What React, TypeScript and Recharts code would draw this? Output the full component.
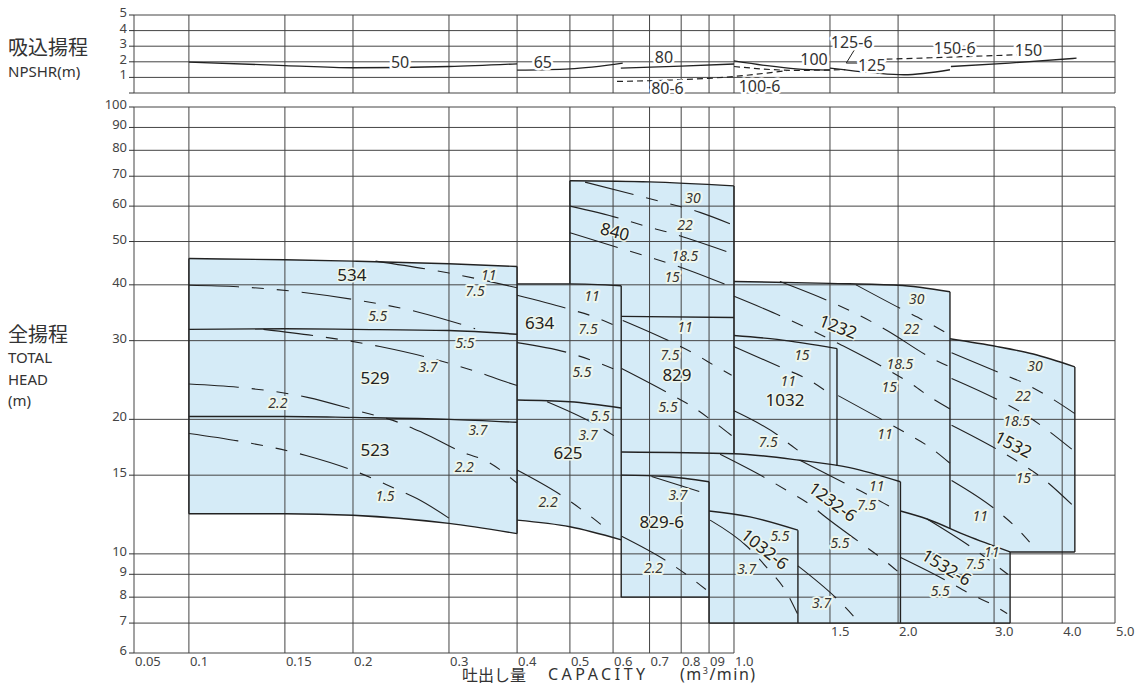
import React from "react";
import { ComposedChart, Line, Area, Scatter, XAxis, YAxis } from "recharts";

type Pt = [number, number];
type Band = [number, number, number];
type Lbl = { t: string; x: number; y: number };

const W = 1138;
const H = 685;
const FONT = "'Noto Sans', 'DejaVu Sans', sans-serif";
const JFONT = "'Noto Sans CJK JP', 'Noto Sans', sans-serif";
const FILL = "#d5ebf7";
const INK = "#222";
const GRID = "#444";
const DASH = "50 13 12 13 12 13";

// ---------- axes ----------
const X_MIN = 0.0793; // left edge of the (broken) capacity axis, labelled 0.05
const X_MAX = 5;
const X_TICKS = [X_MIN, 0.1, 0.15, 0.2, 0.3, 0.4, 0.5, 0.6, 0.7, 0.8, 0.9, 1.0, 1.5, 2.0, 3.0, 4.0, 5.0];
const X_TICK_TEXT = ["0.05", "0.1", "0.15", "0.2", "0.3", "0.4", "0.5", "0.6", "0.7", "0.8", "09", "1.0", "1.5", "2.0", "3.0", "4.0", "5.0"];
const Y_TICKS = [6, 7, 8, 9, 10, 15, 20, 30, 40, 50, 60, 70, 80, 90, 100];
const NPSH_TICKS = [0, 1, 2, 3, 4, 5];

// ---------- pump regions: [capacity, lowHead, highHead] ----------
const FILL_500: Band[] = [[0.1, 12.3, 45.8], [0.15, 12.3, 45.5], [0.2, 12.2, 45.2], [0.3, 11.7, 44.6], [0.4, 11.1, 43.95]];
const FILL_600: Band[] = [[0.4, 11.9, 40.2], [0.5, 11.5, 40.2], [0.621, 10.75, 39.8]];
const FILL_840: Band[] = [[0.5, 30, 68.4], [0.7, 30, 68.0], [1.0, 30, 66.6]];
const FILL_829: Band[] = [[0.621, 14.4, 34.0], [1.0, 14.4, 33.8]];
const FILL_1232_6: Band[] = [[0.9, 7, 16.78], [1.0, 7, 16.75], [1.32, 7, 16.2], [1.63, 7, 15.6], [2.02, 7, 14.5]];
const FILL_829_6: Band[] = [[0.621, 8, 15.0], [0.75, 8, 14.9], [0.9, 8, 14.5]];
const FILL_1032_6: Band[] = [[0.9, 7, 12.47], [1.07, 7, 12.1], [1.31, 7, 11.3]];
const FILL_1032: Band[] = [[1.0, 15.5, 30.8], [1.2, 15.5, 30.2], [1.545, 15.5, 28.8]];
const FILL_1232: Band[] = [[1.0, 16, 40.7], [1.5, 15, 40.3], [2.0, 12, 39.9], [2.49, 10.5, 38.6]];
const FILL_1532: Band[] = [[2.49, 10.1, 30.3], [3.04, 10.1, 29.1], [3.54, 10.1, 28.0], [4.22, 10.1, 26.2]];
const FILL_1532_6: Band[] = [[2.02, 7, 12.47], [2.26, 7, 11.97], [2.68, 7, 10.97], [3.21, 7, 10.1]];

// ---------- region boundaries ----------
const DIV_534_529: Pt[] = [[0.1, 31.8], [0.15, 31.9], [0.2, 31.8], [0.3, 31.6], [0.4, 31.0]];
const DIV_529_523: Pt[] = [[0.1, 20.3], [0.15, 20.3], [0.2, 20.2], [0.3, 20.0], [0.4, 19.7]];
const DIV_634_625: Pt[] = [[0.4, 22.1], [0.5, 21.9], [0.621, 21.2]];
const TOP_1232_6: Pt[] = [[0.621, 16.9], [1.0, 16.75], [1.32, 16.2], [1.63, 15.6], [2.02, 14.5]];
const EDGES: Pt[][] = [
  [[0.1, 12.3], [0.1, 45.8]],
  [[0.4, 11.1], [0.4, 43.95]],
  [[0.621, 39.8], [0.621, 8]],
  [[0.5, 40.2], [0.5, 68.4]],
  [[1.0, 66.6], [1.0, 16.75]],
  [[0.9, 14.5], [0.9, 7]],
  [[0.621, 8], [0.9, 8]],
  [[1.31, 11.3], [1.31, 7]],
  [[2.02, 14.5], [2.02, 7]],
  [[1.545, 28.8], [1.545, 15.72]],
  [[2.49, 38.6], [2.49, 11.4]],
  [[4.22, 26.2], [4.22, 10.1]],
  [[3.21, 10.1], [4.22, 10.1]],
  [[3.21, 10.1], [3.21, 7]],
  [[0.9, 7], [3.21, 7]],
];

// ---------- motor output lines (kW) ----------
const C534_11: Pt[] = [[0.22, 45.2], [0.3, 42.5], [0.4, 39.4]];
const C534_55: Pt[] = [[0.1, 39.9], [0.123, 39.6], [0.2, 37.1], [0.265, 34.7], [0.335, 31.9]];
const C529_37: Pt[] = [[0.137, 31.8], [0.224, 29.1], [0.2745, 27.5], [0.3, 26.7], [0.336, 25.6], [0.38, 24.3], [0.4, 23.8]];
const C529_22: Pt[] = [[0.1, 24.0], [0.123, 23.6], [0.165, 22.4], [0.204, 20.9], [0.242, 19.7], [0.268, 18.7], [0.325, 16.7], [0.345, 16.3], [0.4, 14.4]];
const C523_15: Pt[] = [[0.1, 18.6], [0.123, 17.9], [0.164, 16.6], [0.202, 15.3], [0.236, 14.1], [0.262, 13.3], [0.31, 11.7]];
const C634_11: Pt[] = [[0.4, 37.9], [0.494, 35.4], [0.551, 34.0], [0.61, 32.3]];
const C634_55: Pt[] = [[0.4, 29.7], [0.496, 28.2], [0.553, 27.0], [0.612, 25.7]];
const C625_37: Pt[] = [[0.454, 21.9], [0.556, 19.5], [0.61, 18.2]];
const C625_22: Pt[] = [[0.4, 15.4], [0.483, 13.5], [0.533, 12.4], [0.582, 11.4]];
const C840_30: Pt[] = [[0.533, 67.9], [0.658, 63.6], [0.732, 61.5], [0.866, 58.1], [0.983, 54.8]];
const C840_22: Pt[] = [[0.5, 60], [0.622, 56.2], [0.692, 54.0], [0.772, 52.1], [0.819, 50.9], [0.983, 47.2]];
const C840_185: Pt[] = [[0.5, 52.3], [0.622, 48.2], [0.692, 46.3], [0.772, 44.4], [0.819, 43.3], [0.983, 39.7]];
const C829_11: Pt[] = [[0.625, 33.3], [0.763, 29.9], [0.846, 28.05], [0.93, 26.2], [0.99, 25.1]];
const C829_55: Pt[] = [[0.622, 26.0], [0.758, 22.9], [0.836, 21.4], [0.915, 19.8], [0.99, 18.4]];
const C829_6_37: Pt[] = [[0.706, 14.9], [0.878, 13.7]];
const C829_6_22: Pt[] = [[0.622, 10.95], [0.758, 9.58], [0.83, 8.87], [0.894, 8.27]];
const C1032_6_55: Pt[] = [[0.904, 11.9], [1.056, 10.4], [1.15, 9.3], [1.246, 8.23], [1.307, 7.35]];
const C1232_6_11: Pt[] = [[1.322, 16.2], [1.587, 14.45], [1.752, 13.6], [1.947, 12.7], [2.02, 12.4]];
const C1232_6_75: Pt[] = [[0.943, 16.7], [1.14, 14.8], [1.258, 13.8], [1.389, 12.8], [1.458, 12.2], [1.74, 10.4], [1.906, 9.58], [2.0, 9.12]];
const C1232_6_37: Pt[] = [[1.31, 9.4], [1.555, 7.87], [1.684, 7.1]];
const C1032_15: Pt[] = [[1.0, 29.1], [1.223, 26.1], [1.355, 24.7], [1.489, 22.96]];
const C1032_75: Pt[] = [[1.0, 20.9], [1.206, 18.4], [1.276, 17.45], [1.331, 16.8]];
const C1232_30: Pt[] = [[1.674, 40.0], [2.03, 35.3], [2.24, 33.2], [2.49, 30.9]];
const C1232_22: Pt[] = [[1.214, 40.7], [1.5, 36.7], [1.656, 34.7], [1.827, 32.6], [1.919, 31.5], [2.32, 27.3], [2.49, 26.2]];
const C1232_185: Pt[] = [[1.0, 37.7], [1.223, 34.0], [1.355, 32.1], [1.576, 29.3], [1.906, 25.9], [2.12, 23.96], [2.32, 22.2], [2.49, 21.1]];
const C1232_15: Pt[] = [[1.553, 22.6], [1.893, 19.8], [2.089, 18.5], [2.29, 17.3], [2.49, 15.95]];
const C1532_30: Pt[] = [[2.507, 28.2], [3.076, 25.4], [3.405, 24.1], [3.773, 22.5], [4.22, 20.6]];
const C1532_185: Pt[] = [[2.507, 24.7], [3.054, 22.1], [3.395, 20.6], [3.72, 19.1], [4.165, 17.15]];
const C1532_15: Pt[] = [[2.507, 19.4], [3.034, 17.15], [3.35, 15.96], [3.67, 14.8], [4.165, 12.9]];
const C1532_11: Pt[] = [[2.507, 14.6], [3.01, 12.6], [3.29, 11.47], [3.54, 10.4]];
const C1532_6_11: Pt[] = [[2.26, 11.97], [2.71, 10.4], [3.18, 9.0]];
const C1532_6_55: Pt[] = [[2.017, 9.83], [2.42, 8.79], [2.71, 8.14], [2.995, 7.67], [3.17, 7.35]];

// ---------- labels ----------
const REGION_LABELS: Lbl[] = [
  { t: "534", x: 0.199, y: 42.2 }, { t: "529", x: 0.2195, y: 24.8 }, { t: "523", x: 0.2195, y: 17.1 },
  { t: "634", x: 0.44, y: 33.0 }, { t: "625", x: 0.496, y: 16.9 }, { t: "829", x: 0.786, y: 25.2 },
  { t: "829-6", x: 0.737, y: 11.8 }, { t: "1032", x: 1.24, y: 22.1 }, { t: "840", x: 0.605, y: 52.7 },
  { t: "1232", x: 1.553, y: 32.3 }, { t: "1232-6", x: 1.519, y: 13.1 }, { t: "1032-6", x: 1.14, y: 10.26 },
  { t: "1532", x: 3.256, y: 17.6 }, { t: "1532-6", x: 2.457, y: 9.34 },
];
const REGION_TILT: Record<string, number> = { "840": 15, "1232": 21, "1532": 27, "1232-6": 36, "1032-6": 38, "1532-6": 31 };
const POWER_LABELS: Lbl[] = [
  { t: "11", x: 0.355, y: 42.2 }, { t: "7.5", x: 0.335, y: 38.8 }, { t: "5.5", x: 0.222, y: 34.2 },
  { t: "5.5", x: 0.321, y: 29.7 }, { t: "3.7", x: 0.2745, y: 26.3 }, { t: "2.2", x: 0.1456, y: 21.8 },
  { t: "3.7", x: 0.339, y: 19.0 }, { t: "2.2", x: 0.32, y: 15.7 }, { t: "1.5", x: 0.229, y: 13.5 },
  { t: "11", x: 0.549, y: 37.9 }, { t: "7.5", x: 0.54, y: 31.96 }, { t: "5.5", x: 0.526, y: 25.6 },
  { t: "5.5", x: 0.568, y: 20.4 }, { t: "3.7", x: 0.54, y: 18.5 }, { t: "2.2", x: 0.456, y: 13.1 },
  { t: "30", x: 0.841, y: 62.6 }, { t: "22", x: 0.813, y: 54.5 }, { t: "18.5", x: 0.813, y: 46.5 }, { t: "15", x: 0.77, y: 41.7 },
  { t: "11", x: 0.813, y: 32.3 }, { t: "7.5", x: 0.763, y: 27.96 }, { t: "5.5", x: 0.757, y: 21.4 },
  { t: "3.7", x: 0.789, y: 13.6 }, { t: "2.2", x: 0.712, y: 9.34 },
  { t: "15", x: 1.332, y: 27.96 }, { t: "11", x: 1.258, y: 24.4 }, { t: "7.5", x: 1.156, y: 17.8 },
  { t: "30", x: 2.164, y: 37.2 }, { t: "22", x: 2.117, y: 31.9 }, { t: "18.5", x: 2.016, y: 26.6 }, { t: "15", x: 1.927, y: 23.7 }, { t: "11", x: 1.893, y: 18.6 },
  { t: "11", x: 1.827, y: 14.2 }, { t: "7.5", x: 1.752, y: 12.9 }, { t: "5.5", x: 1.565, y: 10.6 }, { t: "3.7", x: 1.448, y: 7.8 },
  { t: "5.5", x: 1.214, y: 10.98 }, { t: "3.7", x: 1.055, y: 9.26 },
  { t: "30", x: 3.567, y: 26.4 }, { t: "22", x: 3.39, y: 22.6 }, { t: "18.5", x: 3.3, y: 19.9 }, { t: "15", x: 3.395, y: 14.8 }, { t: "11", x: 2.83, y: 12.2 },
  { t: "11", x: 2.97, y: 10.1 }, { t: "7.5", x: 2.77, y: 9.5 }, { t: "5.5", x: 2.39, y: 8.28 },
];

// ---------- NPSHR (m) ----------
const N_50: Pt[] = [[0.1, 1.98], [0.15, 1.76], [0.2, 1.62], [0.3, 1.7], [0.4, 1.87]];
const N_65: Pt[] = [[0.4, 1.47], [0.5, 1.55], [0.625, 1.92]];
const N_80: Pt[] = [[0.62, 1.6], [0.8, 1.72], [1.0, 1.86]];
const N_100: Pt[] = [[1.0, 2.06], [1.15, 1.75], [1.3, 1.55], [1.5, 1.47]];
const N_125: Pt[] = [[1.5, 1.6], [1.8, 1.3], [2.05, 1.17], [2.49, 1.49]];
const N_150: Pt[] = [[2.5, 1.7], [3.2, 1.92], [4.25, 2.23]];
const N_80_6: Pt[] = [[0.61, 0.74], [1.0, 1.06], [1.25, 1.44]];
const N_100_6: Pt[] = [[1.0, 1.7], [1.3, 1.45], [1.6, 1.5]];
const N_150_6: Pt[] = [[1.75, 2.13], [2.4, 2.28], [3.3, 2.45]];
const N_LEADER: Pt[] = [[1.67, 2.87], [1.607, 1.92], [1.683, 1.92]];
const NPSH_LABELS: Lbl[] = [
  { t: "50", x: 0.244, y: 2.0 }, { t: "65", x: 0.446, y: 2.0 }, { t: "80", x: 0.744, y: 2.3 },
  { t: "100", x: 1.402, y: 2.2 }, { t: "125-6", x: 1.644, y: 3.3 }, { t: "125", x: 1.79, y: 1.8 },
  { t: "150-6", x: 2.54, y: 2.87 }, { t: "150", x: 3.47, y: 2.75 }, { t: "80-6", x: 0.755, y: 0.32 },
  { t: "100-6", x: 1.114, y: 0.45 },
];

// ---------- helpers ----------
const toData = (pts: Pt[]) => pts.map(([x, y]) => ({ x, y }));
const bandData = (b: Band[]) => b.map(([x, lo, hi]) => ({ x, r: [lo, hi] }));
const topOf = (b: Band[]): Pt[] => b.map(([x, , hi]) => [x, hi]);
const botOf = (b: Band[]): Pt[] => b.map(([x, lo]) => [x, lo]);

const lines = (list: Pt[][], key: string, stroke: string, width: number, type: "linear" | "monotone", dash?: string) =>
  list.map((pts, i) => (
    <Line
      key={key + i}
      data={toData(pts)}
      dataKey="y"
      type={type}
      stroke={stroke}
      strokeWidth={width}
      strokeDasharray={dash}
      dot={false}
      activeDot={false}
      legendType="none"
      isAnimationActive={false}
    />
  ));

const areas = (list: Band[][], key: string) =>
  list.map((b, i) => (
    <Area
      key={key + i}
      data={bandData(b)}
      dataKey="r"
      type="monotone"
      stroke="none"
      fill={FILL}
      fillOpacity={1}
      dot={false}
      activeDot={false}
      legendType="none"
      isAnimationActive={false}
    />
  ));

const YTick = (p: any) => {
  if (p.payload.value === 0 && p.hideZero) return null;
  return (
    <text x={p.x} y={p.y + 2} textAnchor="end" fontFamily={FONT} fontSize={13} fill="#444">
      {p.payload.value}
    </text>
  );
};

const XTickLabel = (p: any) => (
  <text x={p.cx + 1} y={p.cy + 13} fontFamily={FONT} fontSize={13} fill="#444">
    {p.payload.t}
  </text>
);

const RegionLabel = (p: any) => {
  const rot = REGION_TILT[p.payload.t] || 0;
  return (
    <text
      x={p.cx}
      y={p.cy}
      textAnchor="middle"
      dominantBaseline="central"
      transform={rot ? `rotate(${rot} ${p.cx} ${p.cy})` : undefined}
      fontFamily={FONT}
      fontSize={17}
      fill="#222"
      stroke="#eef6ec"
      strokeWidth={3}
      strokeLinejoin="round"
      style={{ paintOrder: "stroke" }}
    >
      {p.payload.t}
    </text>
  );
};

const PowerLabel = (p: any) => (
  <text
    x={p.cx}
    y={p.cy}
    textAnchor="middle"
    dominantBaseline="central"
    fontFamily={FONT}
    fontSize={14}
    fontStyle="italic"
    fill="#333"
    stroke="#eef6ec"
    strokeWidth={4}
    strokeLinejoin="round"
    style={{ paintOrder: "stroke" }}
  >
    {p.payload.t}
  </text>
);

const NpshLabel = (p: any) => (
  <text
    x={p.cx}
    y={p.cy}
    textAnchor="middle"
    dominantBaseline="central"
    fontFamily={FONT}
    fontSize={16}
    fill="#333"
    stroke="#fff"
    strokeWidth={5}
    strokeLinejoin="round"
    style={{ paintOrder: "stroke" }}
  >
    {p.payload.t}
  </text>
);

export default function App() {
  const mainGrid: Pt[][] = [
    ...Y_TICKS.map((y): Pt[] => [[X_MIN, y], [y === 6 ? 1.0 : X_MAX, y]]),
    ...X_TICKS.map((x): Pt[] => [[x, x > 1 ? 7 : 6], [x, 100]]),
  ];
  const npshGrid: Pt[][] = [
    ...NPSH_TICKS.map((y): Pt[] => [[X_MIN, y], [X_MAX, y]]),
    ...X_TICKS.map((x): Pt[] => [[x, 0], [x, 5]]),
  ];
  const outlineCurves: Pt[][] = [
    topOf(FILL_500), botOf(FILL_500), DIV_534_529, DIV_529_523,
    topOf(FILL_600), botOf(FILL_600), DIV_634_625,
    topOf(FILL_840), topOf(FILL_829), TOP_1232_6, topOf(FILL_829_6), topOf(FILL_1032_6),
    topOf(FILL_1032), topOf(FILL_1232), topOf(FILL_1532), topOf(FILL_1532_6),
  ];
  const motorCurves: Pt[][] = [
    C534_11, C534_55, C529_37, C529_22, C523_15, C634_11, C634_55, C625_37, C625_22,
    C840_30, C840_22, C840_185, C829_11, C829_55, C829_6_37, C829_6_22, C1032_6_55,
    C1232_6_11, C1232_6_75, C1232_6_37, C1032_15, C1032_75, C1232_30, C1232_22, C1232_185, C1232_15,
    C1532_30, C1532_185, C1532_15, C1532_11, C1532_6_11, C1532_6_55,
  ];
  const xTickData = X_TICKS.map((x, i) => ({ x, y: x > 1 ? 7 : 6, t: X_TICK_TEXT[i] }));

  const txt = (s: React.CSSProperties): React.CSSProperties => ({
    position: "absolute",
    whiteSpace: "nowrap",
    lineHeight: 1,
    color: "#333",
    ...s,
  });

  return (
    <div style={{ position: "absolute", left: 0, top: 0, width: W, height: H, background: "#fff", overflow: "hidden" }}>
      <ComposedChart width={W} height={H} margin={{ top: 107, right: 23, bottom: 32, left: 74 }} style={{ position: "absolute", left: 0, top: 0 }}>
        <XAxis type="number" dataKey="x" scale="log" domain={[X_MIN, X_MAX]} ticks={X_TICKS} hide />
        <YAxis
          type="number"
          dataKey="y"
          scale="log"
          domain={[6, 100]}
          ticks={Y_TICKS}
          interval={0}
          width={60}
          axisLine={false}
          tickLine={{ stroke: "#333" }}
          tickSize={5}
          tick={(p: any) => <YTick {...p} />}
        />
        {areas([FILL_840, FILL_1232, FILL_500, FILL_600, FILL_829, FILL_1232_6, FILL_829_6, FILL_1032_6, FILL_1032, FILL_1532, FILL_1532_6], "f")}
        {lines(mainGrid, "g", GRID, 1, "linear")}
        {lines(EDGES, "e", INK, 1.4, "linear")}
        {lines(outlineCurves, "o", INK, 1.4, "monotone")}
        {lines(motorCurves, "m", INK, 1.1, "monotone", DASH)}
        <Scatter data={xTickData} dataKey="y" shape={XTickLabel} isAnimationActive={false} legendType="none" />
        <Scatter data={POWER_LABELS} dataKey="y" shape={PowerLabel} isAnimationActive={false} legendType="none" />
        <Scatter data={REGION_LABELS} dataKey="y" shape={RegionLabel} isAnimationActive={false} legendType="none" />
      </ComposedChart>

      <ComposedChart width={W} height={100} margin={{ top: 15, right: 23, bottom: 7, left: 74 }} style={{ position: "absolute", left: 0, top: 0 }}>
        <XAxis type="number" dataKey="x" scale="log" domain={[X_MIN, X_MAX]} ticks={X_TICKS} hide />
        <YAxis
          type="number"
          dataKey="y"
          domain={[0, 5]}
          ticks={NPSH_TICKS}
          interval={0}
          width={60}
          axisLine={false}
          tickLine={{ stroke: "#333" }}
          tickSize={5}
          tick={(p: any) => <YTick {...p} hideZero />}
        />
        {lines(npshGrid, "ng", GRID, 1, "linear")}
        {lines([N_50, N_65, N_80, N_100, N_125, N_150], "ns", INK, 1.3, "monotone")}
        {lines([N_80_6, N_100_6, N_150_6], "nd", INK, 1.2, "monotone", "6 4")}
        {lines([N_LEADER], "nl", INK, 1, "linear")}
        <Scatter data={NPSH_LABELS} dataKey="y" shape={NpshLabel} isAnimationActive={false} legendType="none" />
      </ComposedChart>

      <div style={txt({ left: 8, top: 37, fontSize: 20, fontFamily: JFONT })}>吸込揚程</div>
      <div style={txt({ left: 8, top: 64, fontSize: 15, fontFamily: FONT })}>NPSHR(m)</div>
      <div style={txt({ left: 8, top: 324, fontSize: 20, fontFamily: JFONT })}>全揚程</div>
      <div style={txt({ left: 8, top: 347, fontSize: 15, fontFamily: FONT, lineHeight: "21.5px" })}>
        TOTAL<br />HEAD<br />(m)
      </div>
      <div style={txt({ left: 462, top: 666, fontSize: 16, fontFamily: JFONT })}>吐出し量</div>
      <div style={txt({ left: 548, top: 666, fontSize: 16, fontFamily: FONT, letterSpacing: 3.5 })}>CAPACITY</div>
      <div style={txt({ left: 680, top: 666, fontSize: 16, fontFamily: FONT, letterSpacing: 1.5 })}>
        (m<sup style={{ fontSize: 9, verticalAlign: 6 }}>3</sup>/min)
      </div>
    </div>
  );
}
